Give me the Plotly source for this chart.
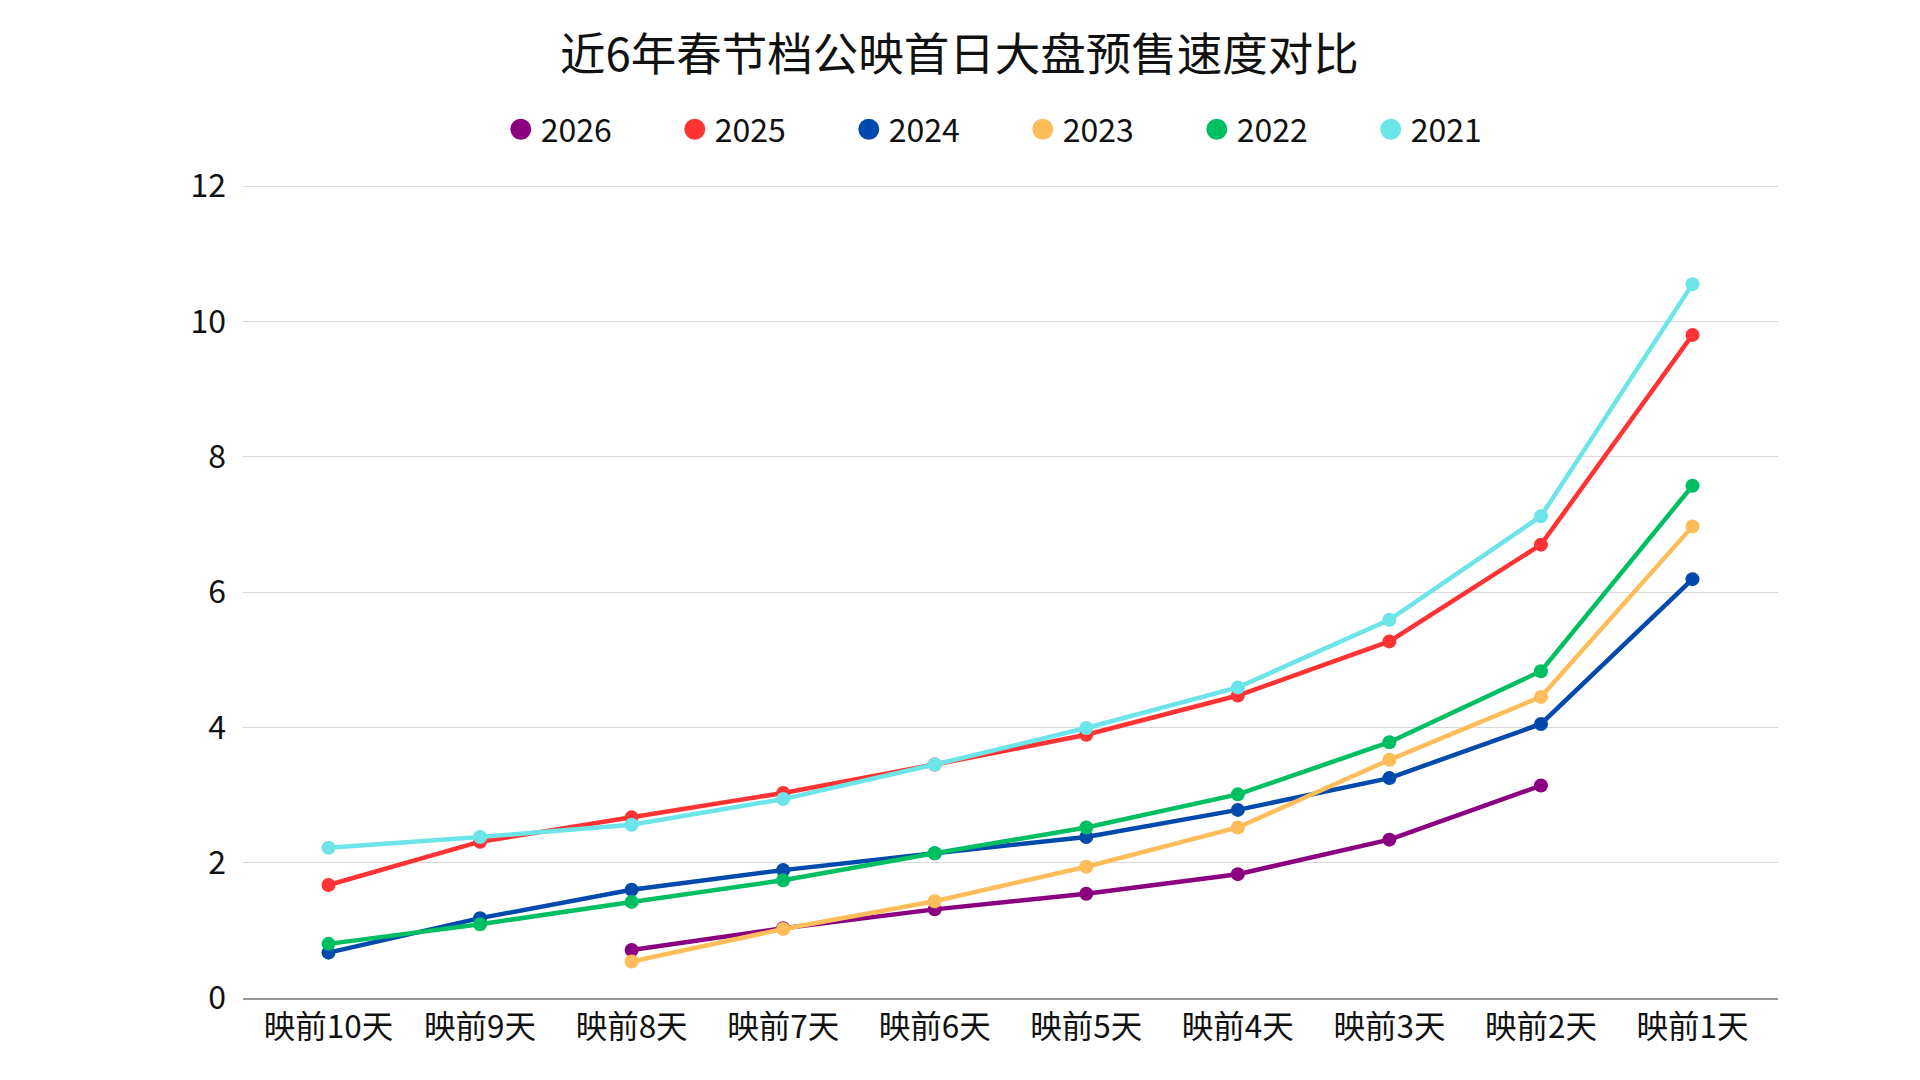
import plotly.graph_objects as go

# 数据
days = ["映前10天", "映前9天", "映前8天", "映前7天", "映前6天",
        "映前5天", "映前4天", "映前3天", "映前2天", "映前1天"]

y2026 = [None, None, 0.71, 1.03, 1.31, 1.54, 1.83, 2.34, 3.14, None]
y2025 = [1.67, 2.31, 2.67, 3.03, 3.45, 3.89, 4.47, 5.27, 6.70, 9.80]
y2024 = [0.67, 1.18, 1.60, 1.89, 2.14, 2.38, 2.78, 3.25, 4.05, 6.19]
y2023 = [None, None, 0.54, 1.02, 1.43, 1.94, 2.52, 3.52, 4.45, 6.97]
y2022 = [0.80, 1.09, 1.42, 1.74, 2.14, 2.52, 3.01, 3.78, 4.83, 7.57]
y2021 = [2.22, 2.38, 2.56, 2.94, 3.45, 3.99, 4.59, 5.59, 7.12, 10.55]

years = ["2026", "2025", "2024", "2023", "2022", "2021"]
series = [y2026, y2025, y2024, y2023, y2022, y2021]
colors = ["#8B0080", "#FF3333", "#004AAD", "#FFBD59", "#00BF63", "#6CE5E8"]

FONT = "Noto Sans CJK SC"

fig = go.Figure()

for name, vals, c in zip(years, series, colors):
    fig.add_trace(go.Scatter(
        x=days, y=vals, name=name, mode="lines+markers",
        line=dict(color=c, width=4.5),
        marker=dict(color=c, size=14),
        showlegend=False, connectgaps=False,
    ))
    # 图例用的大圆点
    fig.add_trace(go.Scatter(
        x=[None], y=[None], name=name, mode="markers",
        marker=dict(color=c, size=16, line=dict(color=c, width=5)),
        showlegend=True,
    ))

fig.update_layout(
    width=1920, height=1080,
    paper_bgcolor="white", plot_bgcolor="white",
    font=dict(family=FONT, size=32, color="#111111"),
    title=dict(text="近6年春节档公映首日大盘预售速度对比", x=0.4955, xanchor="center",
               y=0.9565, yanchor="middle", font=dict(size=45.5, color="#111111")),
    margin=dict(l=235, r=150, t=176, b=90),
    legend=dict(orientation="h", x=0.508, xanchor="center", y=1.067, yanchor="middle",
                entrywidth=129, entrywidthmode="pixels", itemwidth=30,
                font=dict(size=32)),
    xaxis=dict(showgrid=False, showline=True, linecolor="#999999", linewidth=1.5,
               ticks="", ticklabelstandoff=0, tickfont=dict(size=31.5)),
    yaxis=dict(range=[0, 12.03], tickvals=[0, 2, 4, 6, 8, 10, 12], showgrid=True,
               gridcolor="#D9D9D9", gridwidth=1,
               zeroline=False, showline=False, ticks="", ticklabelstandoff=16,
               tickfont=dict(size=32)),
)

fig.write_html("out.html")
